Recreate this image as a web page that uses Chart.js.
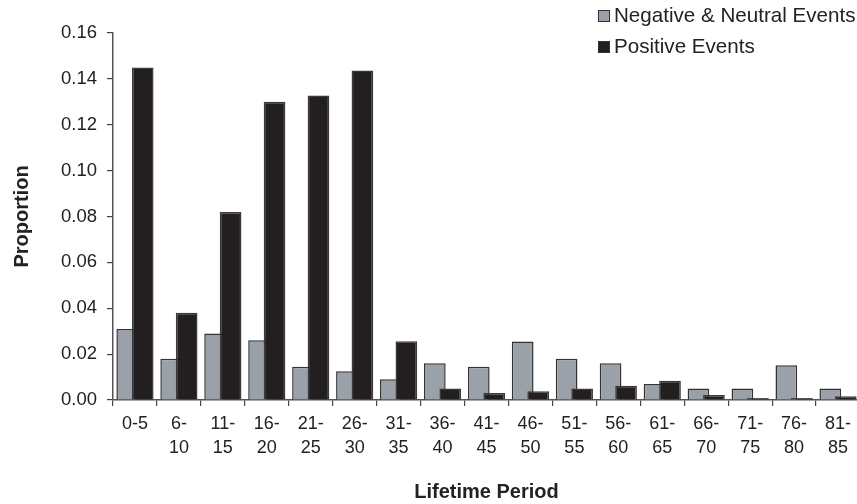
<!DOCTYPE html>
<html>
<head>
<meta charset="utf-8">
<script src="https://cdn.jsdelivr.net/npm/chart.js@4"></script>
<style>
  html, body { margin: 0; padding: 0; background: #fff; overflow: hidden; width: 857px; height: 504px; }
  #wrap { position: relative; width: 864px; height: 504px; }
  canvas { display: block; }
  .leg { position: absolute; font-family: "Liberation Sans", Arial, sans-serif; font-size: 20.6px; color: #222; white-space: nowrap; line-height: 24px; }
  .leg .sw { display: inline-block; box-sizing: border-box; width: 12px; height: 12px; border: 1px solid #333; margin-right: 4px; vertical-align: 0px; }
</style>
</head>
<body>
<div id="wrap">
  <canvas id="c" width="864" height="504"></canvas>
  <div class="leg" id="leg1" style="left:598px; top:3px;"><span class="sw" style="background:#9ba1a8"></span><span id="t1"></span></div>
  <div class="leg" id="leg2" style="left:598px; top:34px;"><span class="sw" style="background:#231f20"></span><span id="t2"></span></div>
</div>
<script>
const categories = [["0-5"],["6-","10"],["11-","15"],["16-","20"],["21-","25"],["26-","30"],["31-","35"],["36-","40"],["41-","45"],["46-","50"],["51-","55"],["56-","60"],["61-","65"],["66-","70"],["71-","75"],["76-","80"],["81-","85"]];
const seriesNames = ["Negative & Neutral Events", "Positive Events"];
const negNeutral = [0.031, 0.018, 0.029, 0.026, 0.0145, 0.0125, 0.009, 0.016, 0.0145, 0.0255, 0.018, 0.016, 0.007, 0.005, 0.005, 0.0152, 0.005];
const positive = [0.145, 0.038, 0.082, 0.130, 0.1327, 0.1437, 0.0256, 0.005, 0.003, 0.0038, 0.005, 0.0062, 0.0084, 0.0022, 0.0009, 0.0009, 0.0016];
const yTicks = [0, 0.02, 0.04, 0.06, 0.08, 0.10, 0.12, 0.14, 0.16];

document.getElementById('t1').textContent = seriesNames[0];
document.getElementById('t2').textContent = seriesNames[1];

const FONT = '"Liberation Sans", Arial, sans-serif';
const reorder = {
  id: 'reorder',
  beforeDatasetsDraw(chart) {
    for (let i = 0; i < chart.data.datasets.length; i++) {
      const meta = chart.getDatasetMeta(i);
      if (meta.visible) meta.controller.draw();
    }
    return false;
  }
};

new Chart(document.getElementById('c'), {
  type: 'bar',
  data: {
    labels: categories,
    datasets: [
      { label: seriesNames[0], data: negNeutral, backgroundColor: '#9ba1a8', borderColor: '#333333', borderWidth: 1.5 },
      { label: seriesNames[1], data: positive, backgroundColor: '#231f20', borderColor: '#3a3a3a', borderWidth: 1.5 }
    ]
  },
  options: {
    responsive: false,
    animation: false,
    events: [],
    categoryPercentage: 0.705,
    barPercentage: 1.4,
    layout: { padding: { top: 33, right: 4, left: 0, bottom: 0 } },
    plugins: { legend: { display: false }, tooltip: { enabled: false } },
    scales: {
      x: {
        grid: { offset: true, drawOnChartArea: false, drawTicks: true, tickLength: 6, color: '#444', lineWidth: 1.2 },
        border: { display: true, color: '#555', width: 1.5 },
        ticks: { color: '#222', font: { family: FONT, size: 18, lineHeight: 1.33 }, padding: 6, maxRotation: 0, autoSkip: false },
        title: { display: true, text: 'Lifetime Period', color: '#222', font: { family: FONT, size: 20, weight: 'bold' }, padding: { top: 0, bottom: 0 } },
        afterFit(s) { s.height = 104; }
      },
      y: {
        min: 0, max: 0.16,
        afterBuildTicks(s) { s.ticks = yTicks.map(v => ({ value: v })); },
        grid: { drawOnChartArea: false, drawTicks: true, tickLength: 6, color: '#444', lineWidth: 1.2 },
        border: { display: true, color: '#555', width: 1.5 },
        ticks: { color: '#222', font: { family: FONT, size: 18.5 }, padding: 10, callback: v => v.toFixed(2) },
        title: { display: true, text: 'Proportion', color: '#222', font: { family: FONT, size: 20, weight: 'bold' }, padding: { top: 10, bottom: 0 } },
        afterFit(s) { s.width = 113; }
      }
    }
  },
  plugins: [reorder]
});
</script>
</body>
</html>
